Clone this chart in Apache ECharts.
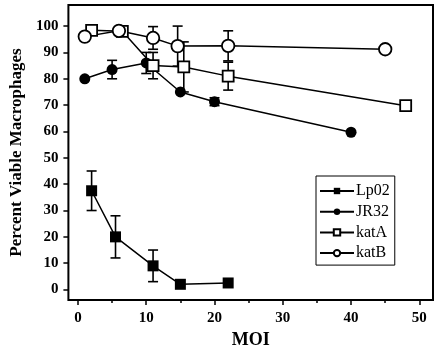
<!DOCTYPE html>
<html><head><meta charset="utf-8">
<script src="https://cdn.jsdelivr.net/npm/echarts@6/dist/echarts.min.js"></script>
<style>html,body{margin:0;padding:0;background:#fff}#c{width:439px;height:354px}</style>
</head><body><div id="c"></div>
<script>
const xTicks = [0, 10, 20, 30, 40, 50];
const xMinorTicks = [5, 15, 25, 35, 45];
const yTicks = [0, 10, 20, 30, 40, 50, 60, 70, 80, 90, 100];

const lp02X = [2, 5.5, 11, 15, 22];
const lp02Y = [37.5, 20, 9, 2, 2.5];
const lp02Err = [7.5, 8, 6, 0, 0];

const jr32X = [1, 5, 10, 15, 20, 40];
const jr32Y = [80, 83.5, 86, 75, 71.3, 59.7];
const jr32Err = [0, 3.5, 4, 0, 1.5, 0];

const katAX = [2, 6.5, 11, 15.5, 22, 48];
const katAY = [98.4, 98, 85, 84.5, 81, 69.8];
const katAErr = [0, 1.5, 5, 9.5, 5.3, 0];

const katBX = [1, 6, 11, 14.6, 22, 45];
const katBY = [96, 98.2, 95.5, 92.4, 92.5, 91.2];
const katBErr = [0, 0, 4.3, 7.6, 5.7, 1.2];

const FONT = '"Liberation Serif", "Times New Roman", serif';

function pts(xs, ys) { return xs.map((x, i) => [x, ys[i]]); }
function errs(xs, ys, es) {
  const out = [];
  xs.forEach((x, i) => { if (es[i] > 0) out.push([x, ys[i] - es[i], ys[i] + es[i]]); });
  return out;
}
const allErr = [].concat(
  errs(lp02X, lp02Y, lp02Err), errs(jr32X, jr32Y, jr32Err),
  errs(katAX, katAY, katAErr), errs(katBX, katBY, katBErr));

function lineSeries(name, xs, ys, symbol, filled, size) {
  return {
    name, type: 'line', data: pts(xs, ys), symbol, symbolSize: size,
    showAllSymbol: true, z: 5,
    lineStyle: { color: '#000', width: 1.5 },
    itemStyle: { color: filled ? '#000' : '#fff', borderColor: '#000', borderWidth: filled ? 0 : 1.8 },
    emphasis: { disabled: true }, animation: false
  };
}

const chart = echarts.init(document.getElementById('c'), null, { renderer: 'canvas' });
chart.setOption({
  animation: false,
  grid: { left: 64, top: 5, right: 6, bottom: 49, show: true, borderColor: '#000', borderWidth: 2, backgroundColor: 'transparent' },
  xAxis: [{
    type: 'value', min: -1.4, max: 52, position: 'bottom',
    name: 'MOI', nameLocation: 'middle', nameGap: 24,
    nameTextStyle: { fontFamily: FONT, fontWeight: 'bold', fontSize: 18, color: '#000' },
    axisLine: { show: false, onZero: false }, splitLine: { show: false },
    axisTick: { show: true, length: 5, inside: false, customValues: xTicks, lineStyle: { color: '#000', width: 1.5 } },
    axisLabel: { customValues: xTicks, margin: 11, fontFamily: FONT, fontWeight: 'bold', fontSize: 15, color: '#000' }
  }, {
    type: 'value', min: -1.4, max: 52, position: 'bottom',
    axisLine: { show: false, onZero: false }, splitLine: { show: false },
    axisTick: { show: true, length: 3, customValues: xMinorTicks, lineStyle: { color: '#000', width: 1.5 } },
    axisLabel: { show: false }
  }],
  yAxis: {
    type: 'value', min: -4, max: 108,
    name: 'Percent Viable Macrophages', nameLocation: 'middle', nameGap: 41,
    nameTextStyle: { fontFamily: FONT, fontWeight: 'bold', fontSize: 17, color: '#000' },
    axisLine: { show: false, onZero: false }, splitLine: { show: false },
    axisTick: { show: true, length: 5, customValues: yTicks, lineStyle: { color: '#000', width: 1.5 } },
    axisLabel: { customValues: yTicks, margin: 10, fontFamily: FONT, fontWeight: 'bold', fontSize: 15, color: '#000' }
  },
  legend: {
    orient: 'vertical', left: 316, top: 176,
    borderColor: '#000', borderWidth: 1, padding: [7, 5, 4, 3],
    itemWidth: 34, itemHeight: 8, itemGap: 4.7,
    textStyle: { fontFamily: FONT, fontSize: 16, color: '#000', padding: [0, 0, 0, -3] },
    data: ['Lp02', 'JR32', 'katA', 'katB']
  },
  series: [
    {
      type: 'custom', data: allErr, z: 3, silent: true, xAxisIndex: 0,
      renderItem(params, api) {
        const x = api.value(0);
        const lo = api.coord([x, api.value(1)]);
        const hi = api.coord([x, api.value(2)]);
        const w = 5;
        const st = { stroke: '#000', lineWidth: 1.6 };
        return { type: 'group', children: [
          { type: 'line', shape: { x1: lo[0], y1: lo[1], x2: hi[0], y2: hi[1] }, style: st },
          { type: 'line', shape: { x1: lo[0] - w, y1: lo[1], x2: lo[0] + w, y2: lo[1] }, style: st },
          { type: 'line', shape: { x1: hi[0] - w, y1: hi[1], x2: hi[0] + w, y2: hi[1] }, style: st }
        ]};
      },
      encode: { x: 0, y: [1, 2] }
    },
    lineSeries('Lp02', lp02X, lp02Y, 'rect', true, 11),
    lineSeries('JR32', jr32X, jr32Y, 'circle', true, 11),
    lineSeries('katA', katAX, katAY, 'rect', false, 11),
    lineSeries('katB', katBX, katBY, 'circle', false, 12.5)
  ]
});
</script></body></html>
